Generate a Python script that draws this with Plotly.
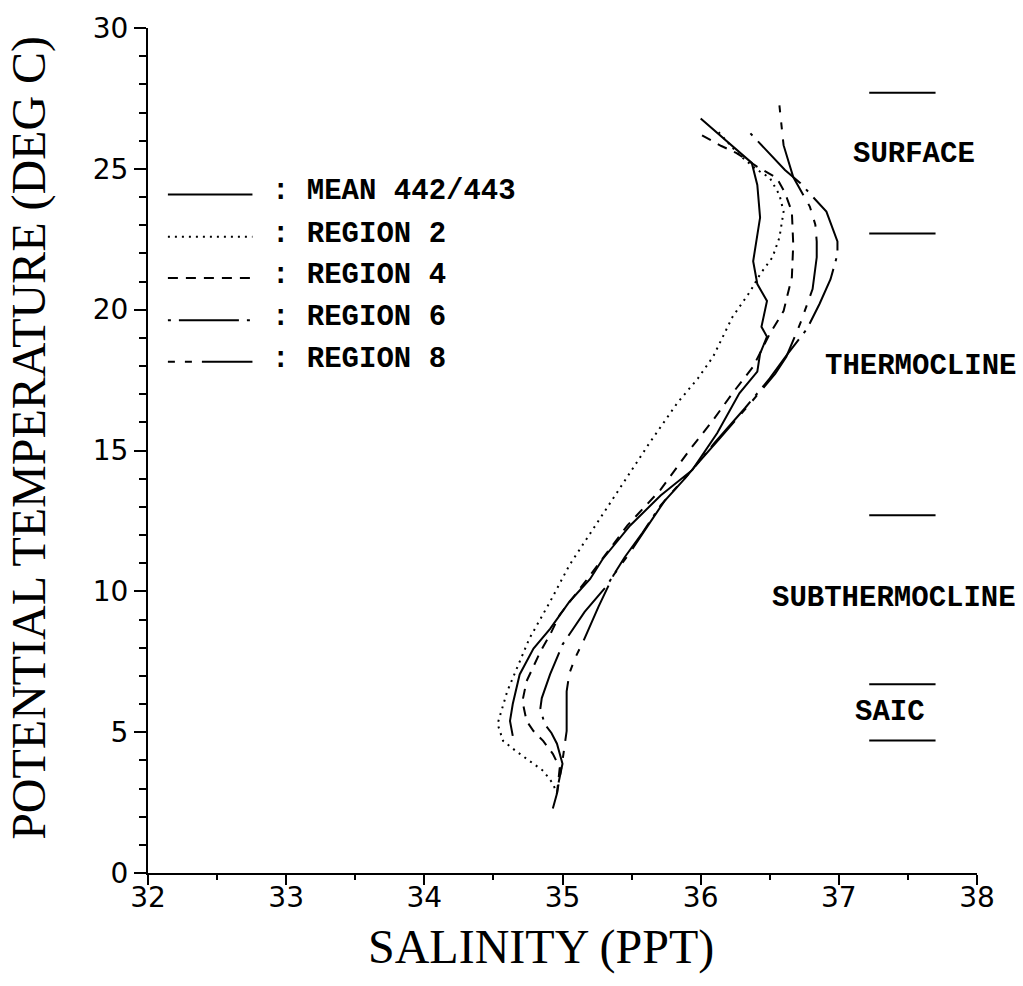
import plotly.graph_objects as go

# Potential temperature (deg C) vs salinity (ppt) profiles
mean_sal = [36.00, 36.37, 36.41, 36.43, 36.38, 36.41, 36.48, 36.44, 36.48, 36.43,
            36.41, 36.28, 36.12, 35.94, 35.71, 35.49, 35.29, 35.20, 35.05, 34.91, 34.79,
            34.69, 34.64, 34.62, 34.64]
mean_temp = [26.79, 25.21, 24.43, 23.27, 21.72, 20.91, 20.31, 19.39, 19.04, 18.44,
             17.80, 17.03, 15.62, 14.31, 13.40, 12.34, 11.14, 10.44, 9.63, 8.67, 7.97,
             7.05, 6.00, 5.40, 4.87]

r2_sal = [36.13, 36.28, 36.41, 36.50, 36.57, 36.60, 36.57, 36.52, 36.43, 36.36, 36.23,
          36.09, 35.98, 35.83, 35.63, 35.45, 35.25, 35.05, 34.91, 34.76, 34.67, 34.60,
          34.53, 34.57, 34.66, 34.76, 34.86, 34.93, 34.96]
r2_temp = [26.30, 25.49, 24.96, 24.68, 24.08, 23.48, 22.56, 21.86, 21.26, 20.66, 19.74,
           18.33, 17.56, 16.68, 15.27, 13.93, 12.45, 10.93, 9.63, 8.32, 7.27, 6.45,
           5.29, 4.69, 4.34, 3.99, 3.63, 3.18, 2.82]

r4_sal = [36.01, 36.15, 36.26, 36.41, 36.55, 36.61, 36.66, 36.67, 36.66, 36.60, 36.50,
          36.38, 36.23, 36.09, 35.92, 35.71, 35.47, 35.29, 35.18, 34.98, 34.91, 34.84,
          34.74, 34.71, 34.74, 34.79, 34.86, 34.93, 34.98, 34.96]
r4_temp = [26.19, 25.81, 25.56, 25.07, 24.68, 24.15, 23.48, 22.32, 21.15, 19.95, 19.14,
           17.98, 17.03, 16.08, 15.02, 13.61, 12.34, 11.14, 10.44, 9.17, 8.46, 7.86,
           6.81, 6.10, 5.40, 5.04, 4.69, 4.23, 3.74, 2.82]

r6_sal = [36.36, 36.61, 36.72, 36.91, 36.99, 36.99, 36.94, 36.86, 36.77, 36.62, 36.50,
          36.32, 36.10, 35.89, 35.71, 35.58, 35.45, 35.32, 35.16, 35.08, 35.00, 34.91,
          34.85, 34.84, 34.87, 34.92, 34.96, 35.00, 34.96]
r6_temp = [26.26, 24.96, 24.50, 23.48, 22.42, 21.96, 21.08, 20.20, 19.32, 18.37, 17.56,
           16.50, 15.27, 14.03, 13.05, 12.09, 11.21, 10.19, 9.27, 8.67, 8.11, 7.05,
           6.21, 5.85, 5.29, 4.97, 4.59, 3.88, 2.93]

r8_sal = [36.57, 36.60, 36.67, 36.79, 36.83, 36.84, 36.84, 36.81, 36.72, 36.62, 36.54,
          36.36, 36.14, 35.92, 35.74, 35.60, 35.49, 35.37, 35.26, 35.15, 35.09, 35.05,
          35.03, 35.03, 35.00, 34.96, 34.93]
r8_temp = [27.25, 25.84, 24.71, 23.66, 23.02, 22.42, 21.86, 20.73, 19.50, 18.33, 17.73,
           16.68, 15.44, 14.21, 13.22, 12.20, 11.39, 10.58, 9.45, 8.22, 7.62, 7.09,
           6.45, 5.04, 3.99, 2.82, 2.29]

series_names = ["MEAN 442/443", "REGION 2", "REGION 4", "REGION 6", "REGION 8"]
series_sal = [mean_sal, r2_sal, r4_sal, r6_sal, r8_sal]
series_temp = [mean_temp, r2_temp, r4_temp, r6_temp, r8_temp]
series_dash = ["solid", "2px,5px", "10px,8px", "3px,8px,60px,8px",
               "7px,10px,7px,10px,60px,10px"]

# Water-mass layers: boundary temperatures and labels
layer_bounds = [27.7, 22.7, 12.7, 6.7, 4.7]
layer_names = ["SURFACE", "THERMOCLINE", "SUBTHERMOCLINE", "SAIC"]
layer_label_temp = [25.5, 18.0, 9.75, 5.7]

TYPE_FONT = dict(family="Liberation Mono", size=29, color="black", weight="bold")

fig = go.Figure()
for name, s, t, d in zip(series_names, series_sal, series_temp, series_dash):
    fig.add_trace(go.Scatter(x=s, y=t, mode="lines", name=name,
                             line=dict(color="black", width=2, dash=d),
                             showlegend=False))

shapes = []
for b in layer_bounds:
    shapes.append(dict(type="line", xref="x", yref="y", x0=37.22, x1=37.70, y0=b, y1=b,
                       line=dict(color="black", width=2)))

# hand-drawn key in the upper left
key_y = [0.803, 0.753, 0.704, 0.654, 0.605]
annotations = []
for name, d, ky in zip(series_names, series_dash, key_y):
    shapes.append(dict(type="line", xref="paper", yref="paper", x0=0.024, x1=0.126,
                       y0=ky, y1=ky, line=dict(color="black", width=2, dash=d)))
    annotations.append(dict(xref="paper", yref="paper", x=0.147, y=ky + 0.003,
                            text=": " + name, showarrow=False, xanchor="left",
                            yanchor="middle", font=TYPE_FONT))

# layer names sit in the right margin (paper x)
label_x = [1.0, 1.0495, 1.0495, 0.895]
label_anchor = ["right", "right", "right", "center"]
for name, lt, lx, la in zip(layer_names, layer_label_temp, label_x, label_anchor):
    annotations.append(dict(xref="paper", yref="y", x=lx, y=lt, text=name,
                            showarrow=False, xanchor=la, yanchor="middle",
                            font=TYPE_FONT))

# axis titles
annotations.append(dict(xref="paper", yref="paper", x=0.474, y=-0.088,
                        text="SALINITY (PPT)", showarrow=False,
                        xanchor="center", yanchor="middle",
                        font=dict(family="Liberation Serif", size=48, color="black")))
annotations.append(dict(xref="paper", yref="paper", x=-0.1435, y=0.515,
                        text="POTENTIAL TEMPERATURE (DEG C)", showarrow=False,
                        textangle=-90, xanchor="center", yanchor="middle",
                        font=dict(family="Liberation Serif", size=48, color="black")))

axis_common = dict(showline=True, linecolor="black", linewidth=2, ticks="outside",
                   tickcolor="black", tickwidth=2, showgrid=False,
                   zeroline=False, mirror=False,
                   tickfont=dict(family="DejaVu Sans", size=28, color="black"))

fig.update_layout(
    width=1023, height=986,
    margin=dict(l=148, r=46, t=22, b=113),
    paper_bgcolor="white", plot_bgcolor="white",
    xaxis=dict(range=[32, 38], dtick=1, tick0=32, ticklen=10, ticklabelstandoff=-12,
               minor=dict(dtick=0.5, ticks="outside", ticklen=5, tickcolor="black",
                          tickwidth=1.5),
               **axis_common),
    yaxis=dict(range=[0, 30], dtick=5, tick0=0, ticklen=12,
               minor=dict(dtick=1, ticks="outside", ticklen=7, tickcolor="black",
                          tickwidth=1.5),
               **axis_common),
    shapes=shapes,
    annotations=annotations,
)

fig.write_html("out.html")
